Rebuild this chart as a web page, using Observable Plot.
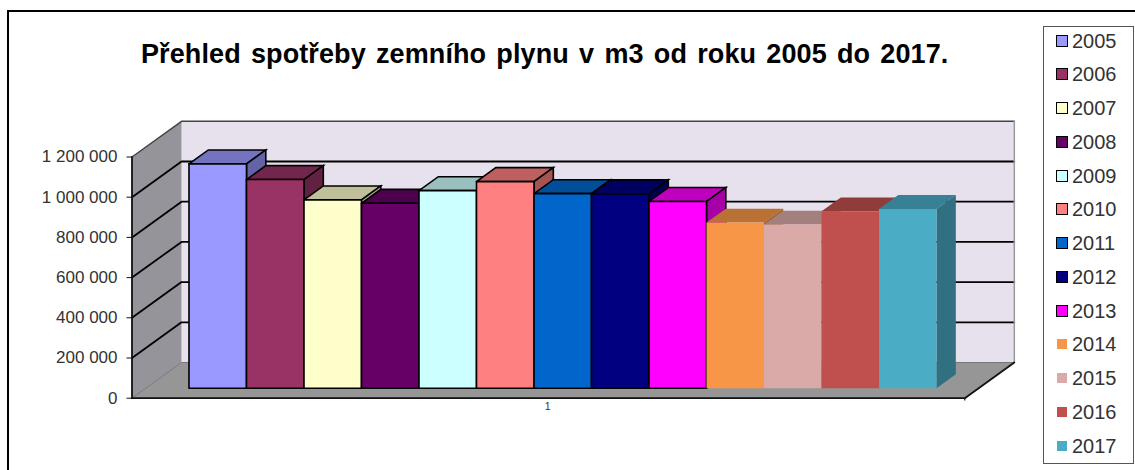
<!DOCTYPE html>
<html lang="cs">
<head>
<meta charset="utf-8">
<script src="https://cdn.jsdelivr.net/npm/d3@7"></script>
<script src="https://cdn.jsdelivr.net/npm/@observablehq/plot@0.6"></script>
<style>
  html, body { margin: 0; padding: 0; background: #fff; width: 1135px; height: 470px; overflow: hidden; }
  #stage { position: relative; width: 1135px; height: 470px; font-family: "Liberation Sans", Arial, sans-serif; }
  #frame { position: absolute; left: 7px; top: 10px; width: 1128px; height: 460px; border-left: 2px solid #000; border-top: 2px solid #000; box-sizing: border-box; }
  #title { position: absolute; left: 141px; top: 39px; width: 810px; font-size: 27px; font-weight: bold; color: #000; white-space: nowrap; letter-spacing: 0.1px; word-spacing: 2.6px; line-height: 30px; }
  #legend { position: absolute; left: 1043px; top: 26px; width: 91px; height: 438px; border: 1.5px solid #555; box-sizing: border-box; background: #fff; }
  .entry { position: absolute; left: 13px; height: 24px; display: flex; align-items: center; font-size: 20px; color: #333; line-height: 24px; }
  .swatch { display: inline-block; width: 10px; height: 10px; margin-right: 5px; box-sizing: content-box; }
  #chart { position: absolute; left: 0; top: 0; }
  #chart svg { display: block; }
</style>
</head>
<body>
<div id="stage">
  <div id="chart"></div>
  <div id="frame"></div>
  <div id="title">Přehled spotřeby zemního plynu v m3 od roku 2005 do 2017.</div>
  <div id="legend"></div>
</div>
<script>
const years = [2005, 2006, 2007, 2008, 2009, 2010, 2011, 2012, 2013, 2014, 2015, 2016, 2017];
const usage = [1116000, 1038000, 937000, 920000, 983000, 1028000, 968000, 967000, 929000, 824000, 814000, 880000, 892000];
const barColors = ["#9999FF", "#993366", "#FFFFCC", "#660066", "#CCFFFF", "#FF8080", "#0066CC", "#000080", "#FF00FF", "#F79646", "#D9AAA8", "#C0504D", "#4BACC6"];
const outlined = [true, true, true, true, true, true, true, true, true, false, false, false, false];
const tickValues = [0, 200000, 400000, 600000, 800000, 1000000, 1200000];
const categoryLabel = "1";

// oblique projection: a point at floor position u, height v and depth d (0 front, 1 back)
const uMax = 14.483, depthU = 0.861, depthV = 177600;
const P = (u, v, d) => ({x: u + d * depthU, y: v + d * depthV});
const poly = (id, fill, pts) => [...pts, pts[0]].map(([u, v, d]) => ({...P(u, v, d), id, fill}));
const shade = (c, k) => { const r = d3.rgb(c); return d3.rgb(r.r * k, r.g * k, r.b * k).formatHex(); };

const vTop = tickValues[tickValues.length - 1];
const walls = [
  ...poly("back", "#E6E1EC", [[0, 0, 1], [uMax, 0, 1], [uMax, vTop, 1], [0, vTop, 1]]),
  ...poly("left", "#96949B", [[0, 0, 0], [0, 0, 1], [0, vTop, 1], [0, vTop, 0]]),
  ...poly("floor", "#969696", [[0, 0, 0], [uMax, 0, 0], [uMax, 0, 1], [0, 0, 1]])
];
const grid = tickValues.filter((v) => v > 0 && v < vTop).flatMap((v) =>
  [[0, v, 0], [0, v, 1], [uMax, v, 1]].map(([u, w, d]) => ({...P(u, w, d), v})));
const wallTop = [[0, vTop, 0], [0, vTop, 1], [uMax, vTop, 1]].map(([u, w, d]) => P(u, w, d));
const wallRight = [[uMax, vTop, 1], [uMax, 0, 1]].map(([u, w, d]) => P(u, w, d));
const floorEdge = [[0, 0, 0], [uMax, 0, 0], [uMax, 0, 1]].map(([u, w, d]) => P(u, w, d));
const floorBack = [[0, 0, 0], [0, 0, 1], [uMax, 0, 1]].map(([u, w, d]) => P(u, w, d));
const axisLine = [[0, vTop, 0], [0, 0, 0]].map(([u, w, d]) => P(u, w, d));

// bars stand on the floor between these depths
const d0 = 0.28, d1 = 0.67, u0 = 0.75;
const barMarks = years.flatMap((y, i) => {
  const a = u0 + i, b = a + 1, v = usage[i], c = barColors[i];
  const faces = [
    ...poly(y + "t", shade(c, 0.75), [[a, v, d0], [b, v, d0], [b, v, d1], [a, v, d1]]),
    ...poly(y + "s", shade(c, 0.65), [[b, 0, d0], [b, 0, d1], [b, v, d1], [b, v, d0]]),
    ...poly(y + "f", c, [[a, 0, d0], [b, 0, d0], [b, v, d0], [a, v, d0]])
  ];
  return Plot.line(faces, {
    x: "x", y: "y", z: "id", fill: "fill",
    stroke: outlined[i] ? "#000" : "none",
    strokeWidth: 1.6, strokeLinejoin: "miter", strokeMiterlimit: 10
  });
});

const fmt = (v) => d3.format(",")(v).replace(/,/g, " ");
const L = (data, opts) => Plot.line(data, {x: "x", y: "y", strokeLinejoin: "miter", ...opts});

const chart = Plot.plot({
  width: 1135, height: 470,
  marginLeft: 131.5, marginRight: 170.7, marginTop: 156.5, marginBottom: 72.3,
  style: {background: "transparent", fontFamily: '"Liberation Sans", Arial, sans-serif'},
  x: {domain: [0, uMax], axis: null},
  y: {domain: [0, vTop], axis: null},
  color: {type: "identity"},
  marks: [
    Plot.line(walls, {x: "x", y: "y", z: "id", fill: "fill", stroke: "none"}),
    L(floorBack, {stroke: "#777", strokeWidth: 1}),
    L(grid, {z: "v", stroke: "#000", strokeWidth: 1.8}),
    L(wallTop, {stroke: "#444", strokeWidth: 1.5}),
    L(wallRight, {stroke: "#999", strokeWidth: 1.5}),
    L(floorEdge, {stroke: "#111", strokeWidth: 1.8}),
    L(axisLine, {stroke: "#111", strokeWidth: 1.8}),
    Plot.axisY({ticks: tickValues, tickFormat: fmt, tickSize: 5, tickPadding: 9.5, fontSize: 17, stroke: "#111", color: "#333", label: null}),
    Plot.axisX({ticks: [7.227], tickFormat: () => categoryLabel, tickSize: 0, tickPadding: 4, fontSize: 10.5, fill: "#333", label: null}),
    Plot.ruleX([uMax], {y1: 0, y2: -14000, stroke: "#111", strokeWidth: 1.2}),
    ...barMarks
  ]
});
document.getElementById("chart").appendChild(chart);

const legend = document.getElementById("legend");
years.forEach((y, i) => {
  const e = document.createElement("div");
  e.className = "entry";
  e.style.top = (1.5 + i * 33.75) + "px";
  const s = document.createElement("span");
  s.className = "swatch";
  s.style.background = barColors[i];
  s.style.outline = outlined[i] ? "1.6px solid #000" : "none";
  e.appendChild(s);
  e.appendChild(document.createTextNode(y));
  legend.appendChild(e);
});
</script>
</body>
</html>
